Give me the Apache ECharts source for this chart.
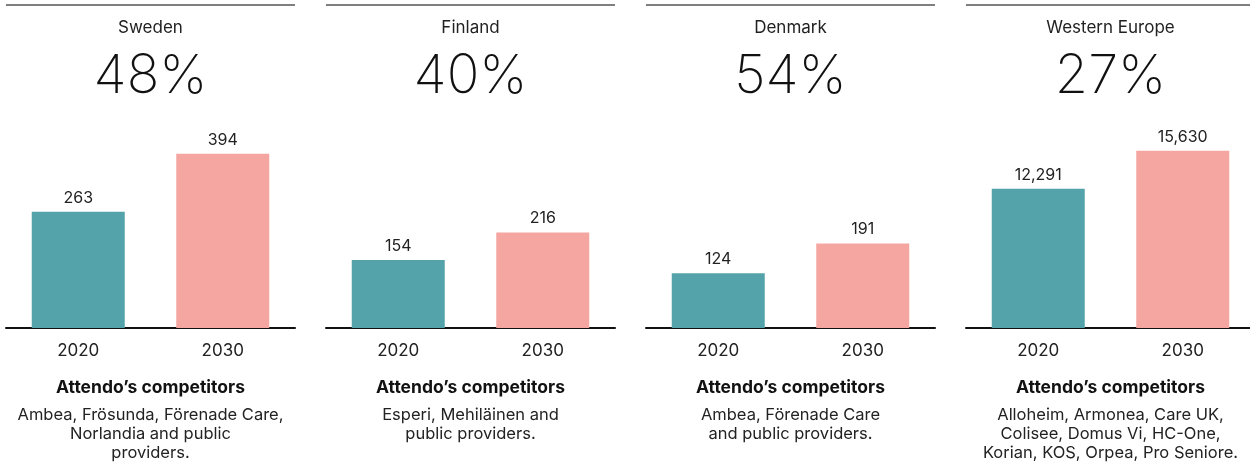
<!DOCTYPE html>
<html>
<head>
<meta charset="utf-8">
<script src="https://cdn.jsdelivr.net/npm/echarts@6/dist/echarts.min.js"></script>
<style>
  html, body { margin: 0; padding: 0; background: #fff; overflow: hidden; }
  /* a bit wider than the window: the last panel runs past the right edge */
  #chart { width: 1256px; height: 466px; }
</style>
</head>
<body>
<div id="chart"></div>
<script>
// data
const regions = ["Sweden", "Finland", "Denmark", "Western Europe"];
const growth = ["48%", "40%", "54%", "27%"];
const years = ["2020", "2030"];
const values2020 = [263, 154, 124, 12291];
const values2030 = [394, 216, 191, 15630];
const axisMax = [500, 500, 500, 19500];
const competitors = [
  "Ambea, Frösunda, Förenade Care,\nNorlandia and public\nproviders.",
  "Esperi, Mehiläinen and\npublic providers.",
  "Ambea, Förenade Care\nand public providers.",
  "Alloheim, Armonea, Care UK,\nColisee, Domus Vi, HC-One,\nKorian, KOS, Orpea, Pro Seniore."
];

const chart = echarts.init(document.getElementById("chart"));
const font = "Inter, 'Open Sans', sans-serif";
const panelLeft = (i) => 6 + 320 * i;
const panelW = 289;

const grids = [], xAxes = [], yAxes = [], series = [], graphics = [];
regions.forEach((name, i) => {
  grids.push({ left: panelLeft(i), width: panelW, top: 107, height: 221 });
  xAxes.push({
    type: "category",
    gridIndex: i,
    data: years,
    axisLine: { lineStyle: { color: "#111", width: 2 } },
    axisTick: { show: false },
    axisLabel: { color: "#222", fontSize: 17, fontFamily: font, margin: 14 }
  });
  yAxes.push({ type: "value", gridIndex: i, min: 0, max: axisMax[i], show: false });
  series.push({
    type: "bar",
    xAxisIndex: i,
    yAxisIndex: i,
    barWidth: 93,
    data: [
      { value: values2020[i], itemStyle: { color: "#55A3AA" } },
      { value: values2030[i], itemStyle: { color: "#F5A6A1" } }
    ],
    label: {
      show: true,
      position: "top",
      distance: 6,
      color: "#222",
      fontSize: 16,
      fontFamily: font,
      formatter: (p) => p.value.toLocaleString("en-US")
    }
  });

  const cx = panelLeft(i) + panelW / 2;
  // top rule
  graphics.push({
    type: "line",
    shape: { x1: panelLeft(i), y1: 5, x2: panelLeft(i) + panelW, y2: 5 },
    style: { stroke: "#555", lineWidth: 1.5 }
  });
  graphics.push({
    type: "text",
    style: { text: name, x: cx, y: 28, align: "center", verticalAlign: "middle",
      font: "400 17px " + font, fill: "#222" }
  });
  graphics.push({
    type: "text",
    style: { text: growth[i], x: cx, y: 77, align: "center", verticalAlign: "middle",
      font: "200 54px " + font, fill: "#111" }
  });
  graphics.push({
    type: "text",
    style: { text: "Attendo’s competitors", x: cx, y: 388, align: "center", verticalAlign: "middle",
      font: "700 17.5px " + font, fill: "#111" }
  });
  graphics.push({
    type: "text",
    style: { text: competitors[i], x: cx, y: 406, align: "center", verticalAlign: "top",
      font: "400 16.5px " + font, lineHeight: 19, fill: "#222" }
  });
});

chart.setOption({
  animation: false,
  grid: grids,
  xAxis: xAxes,
  yAxis: yAxes,
  series: series,
  graphic: graphics
});
</script>
</body>
</html>
